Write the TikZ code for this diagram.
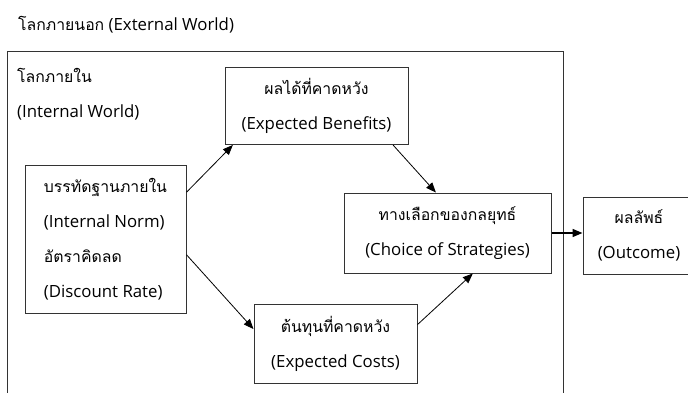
\documentclass[tikz,border=0pt]{standalone}
\usepackage{fontspec}
\setmainfont{Open Sans}
\newfontfamily\thai[Script=Thai,Scale=0.94]{Loma}
\usetikzlibrary{arrows.meta}
\begin{document}
\begin{tikzpicture}[x=1pt,y=-1pt,
  box/.style={draw=black!80, line width=1pt, inner sep=0pt, align=center, font=\fontsize{16.8}{35}\selectfont},
  conn/.style={-{Triangle[length=10pt,width=8pt]}, line width=0.8pt},
  lbl/.style={inner sep=0pt, anchor=west, font=\fontsize{16.8}{20}\selectfont}]
\useasboundingbox (0,0) rectangle (688,392);
\clip (0,0) rectangle (688,392);
\draw[black!80, line width=1pt] (7,51) rectangle (563,420);
\node[lbl] (ext) at (18,25) {{\thai โลกภายนอก} (External World)};
\node[lbl] (intw) at (17,75) {\thai โลกภายใน};
\node[lbl] (intwe) at (17,112) {(Internal World)};
\node[box, minimum width=161pt, minimum height=148pt, align=left] (norm) at (105.5,239)
  {{\thai บรรทัดฐานภายใน}\\(Internal Norm)\\{\thai อัตราคิดลด}\\(Discount Rate)};
\node[box, minimum width=183pt, minimum height=77pt] (ben) at (316.5,106)
  {{\thai ผลได้ที่คาดหวัง}\\(Expected Benefits)};
\node[box, minimum width=207pt, minimum height=80pt] (choice) at (447.5,233)
  {{\thai ทางเลือกของกลยุทธ์}\\(Choice of Strategies)};
\node[box, minimum width=163pt, minimum height=79pt] (costs) at (335.5,343.5)
  {{\thai ต้นทุนที่คาดหวัง}\\(Expected Costs)};
\node[box, minimum width=112pt, minimum height=77pt] (out) at (639,235.5)
  {{\thai ผลลัพธ์}\\(Outcome)};
\draw[conn] (norm.30) -- (ben.205);
\draw[conn] (norm.-11) -- (costs.170);
\draw[conn] (ben.-27) -- (choice.106);
\draw[conn] (costs.13) -- (choice.-58);
\draw[conn, line width=1.6pt] (choice.east) -- (choice.east -| out.west);
\end{tikzpicture}
\end{document}
